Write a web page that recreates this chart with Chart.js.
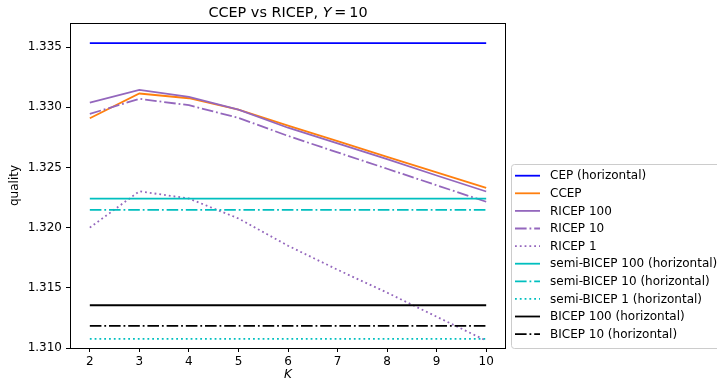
<!DOCTYPE html>
<html>
<head>
<meta charset="utf-8">
<script src="https://cdn.jsdelivr.net/npm/chart.js@4.4.0/dist/chart.umd.min.js"></script>
<style>
  html, body { margin: 0; padding: 0; background: #fff; }
  #wrap { width: 717px; height: 384px; }
</style>
</head>
<body>
<div id="wrap"><canvas id="myChart" width="717" height="384"></canvas></div>
<script>
// data
var kValues = [2, 3, 4, 5, 6, 7, 8, 9, 10];
var yTicks = [1.310, 1.315, 1.320, 1.325, 1.330, 1.335];

var ccep     = [1.32909, 1.33114, 1.33075, 1.32981, 1.32847, 1.32718, 1.32588, 1.32459, 1.32330];
var ricep100 = [1.33039, 1.33144, 1.33086, 1.32981, 1.32830, 1.32700, 1.32570, 1.32433, 1.32300];
var ricep10  = [1.32945, 1.33070, 1.33017, 1.32912, 1.32762, 1.32625, 1.32489, 1.32352, 1.32215];
var ricep1   = [1.32000, 1.32302, 1.32242, 1.32076, 1.31850, 1.31650, 1.31460, 1.31260, 1.31061];

// horizontal reference levels
var cep = 1.33533;
var semiBicep100 = 1.32241;
var semiBicep10 = 1.32148;
var semiBicep1 = 1.31075;
var bicep100 = 1.31355;
var bicep10 = 1.31183;

var FONT = '"DejaVu Sans", sans-serif';
var DASHDOT = [11.6, 2.9, 1.8, 2.9];
var DOTTED = [1.8, 3.0];

function pts(vals) {
    return kValues.map(function (k, i) { return { x: k, y: vals[i] }; });
}
function flat(v) {
    return kValues.map(function (k) { return { x: k, y: v }; });
}

var series = [
    { label: 'CEP (horizontal)', data: flat(cep), color: '#0000ff', dash: [] },
    { label: 'CCEP', data: pts(ccep), color: '#ff7f0e', dash: [] },
    { label: 'RICEP 100', data: pts(ricep100), color: '#9467bd', dash: [] },
    { label: 'RICEP 10', data: pts(ricep10), color: '#9467bd', dash: DASHDOT },
    { label: 'RICEP 1', data: pts(ricep1), color: '#9467bd', dash: DOTTED },
    { label: 'semi-BICEP 100 (horizontal)', data: flat(semiBicep100), color: '#00bfbf', dash: [] },
    { label: 'semi-BICEP 10 (horizontal)', data: flat(semiBicep10), color: '#00bfbf', dash: DASHDOT },
    { label: 'semi-BICEP 1 (horizontal)', data: flat(semiBicep1), color: '#00bfbf', dash: DOTTED },
    { label: 'BICEP 100 (horizontal)', data: flat(bicep100), color: '#000000', dash: [] },
    { label: 'BICEP 10 (horizontal)', data: flat(bicep10), color: '#000000', dash: DASHDOT }
];

var datasets = series.map(function (s, i) {
    return {
        label: s.label,
        data: s.data,
        borderColor: s.color,
        backgroundColor: s.color,
        borderDash: s.dash,
        borderWidth: 1.8,
        pointRadius: 0,
        tension: 0,
        fill: false,
        order: series.length - i
    };
});

// frame, title, axis labels and legend in matplotlib style
var decorations = {
    id: 'decorations',
    afterDraw: function (chart) {
        var c = chart.ctx;
        var a = chart.chartArea;
        c.save();

        // spines
        c.strokeStyle = '#000';
        c.lineWidth = 1;
        c.setLineDash([]);
        c.strokeRect(Math.round(a.left) + 0.5, Math.round(a.top) + 0.5,
            Math.round(a.right - a.left) - 1, Math.round(a.bottom - a.top));

        c.fillStyle = '#000';

        // title with italic Y
        var cx = (a.left + a.right) / 2;
        var p1 = 'CCEP vs RICEP, ', p2 = 'Y', p3 = '\u2009=\u200910';
        c.font = '14.4px ' + FONT;
        var w1 = c.measureText(p1).width;
        var w3 = c.measureText(p3).width;
        c.font = 'italic 14.4px ' + FONT;
        var w2 = c.measureText(p2).width;
        var x0 = cx - (w1 + w2 + w3) / 2;
        c.textBaseline = 'alphabetic';
        c.textAlign = 'left';
        c.font = '14.4px ' + FONT;
        c.fillText(p1, x0, 17);
        c.font = 'italic 14.4px ' + FONT;
        c.fillText(p2, x0 + w1, 17);
        c.font = '14.4px ' + FONT;
        c.fillText(p3, x0 + w1 + w2, 17);

        // x label
        c.font = 'italic 12px ' + FONT;
        c.textAlign = 'center';
        c.textBaseline = 'middle';
        c.fillText('K', cx, 375);

        // y label
        c.font = '12px ' + FONT;
        c.translate(15, (a.top + a.bottom) / 2);
        c.rotate(-Math.PI / 2);
        c.fillText('quality', 0, 0);
        c.setTransform(1, 0, 0, 1, 0, 0);

        // legend
        var lx = 511, ly = 164, lw = 240, lh = 184;
        c.fillStyle = 'rgba(255,255,255,0.8)';
        c.strokeStyle = '#cccccc';
        c.lineWidth = 1;
        c.beginPath();
        c.roundRect(lx + 0.5, ly + 0.5, lw, lh, 3);
        c.fill();
        c.stroke();

        c.font = '12px ' + FONT;
        c.textAlign = 'left';
        c.textBaseline = 'middle';
        series.forEach(function (s, i) {
            var y = 175.7 + i * 17.6;
            c.strokeStyle = s.color;
            c.lineWidth = 1.8;
            c.setLineDash(s.dash);
            c.beginPath();
            c.moveTo(515, y);
            c.lineTo(540, y);
            c.stroke();
            c.setLineDash([]);
            c.fillStyle = '#000';
            c.fillText(s.label, 550, y + 0.5);
        });

        c.restore();
    }
};

var ctx = document.getElementById('myChart').getContext('2d');
var myChart = new Chart(ctx, {
    type: 'line',
    data: { datasets: datasets },
    options: {
        responsive: false,
        animation: false,
        layout: { padding: { left: 0, top: 23, right: 211, bottom: 0 } },
        plugins: {
            legend: { display: false },
            title: { display: false },
            tooltip: { enabled: false }
        },
        scales: {
            x: {
                type: 'linear',
                min: 1.6,
                max: 10.4,
                afterBuildTicks: function (scale) {
                    scale.ticks = kValues.map(function (v) { return { value: v }; });
                },
                afterFit: function (scale) { scale.height = 36; },
                grid: { display: true, drawOnChartArea: false, drawTicks: true, tickLength: 4, color: '#000', tickWidth: 1 },
                border: { display: false },
                ticks: { color: '#000', padding: 3, maxRotation: 0, font: { family: FONT, size: 12 } }
            },
            y: {
                type: 'linear',
                min: 1.3100,
                max: 1.3370,
                afterBuildTicks: function (scale) {
                    scale.ticks = yTicks.map(function (v) { return { value: v }; });
                },
                afterFit: function (scale) { scale.width = 70; },
                grid: { display: true, drawOnChartArea: false, drawTicks: true, tickLength: 4, color: '#000', tickWidth: 1 },
                border: { display: false },
                ticks: {
                    color: '#000', padding: 4, font: { family: FONT, size: 12 },
                    callback: function (v) { return v.toFixed(3); }
                }
            }
        }
    },
    plugins: [decorations]
});
</script>
</body>
</html>
